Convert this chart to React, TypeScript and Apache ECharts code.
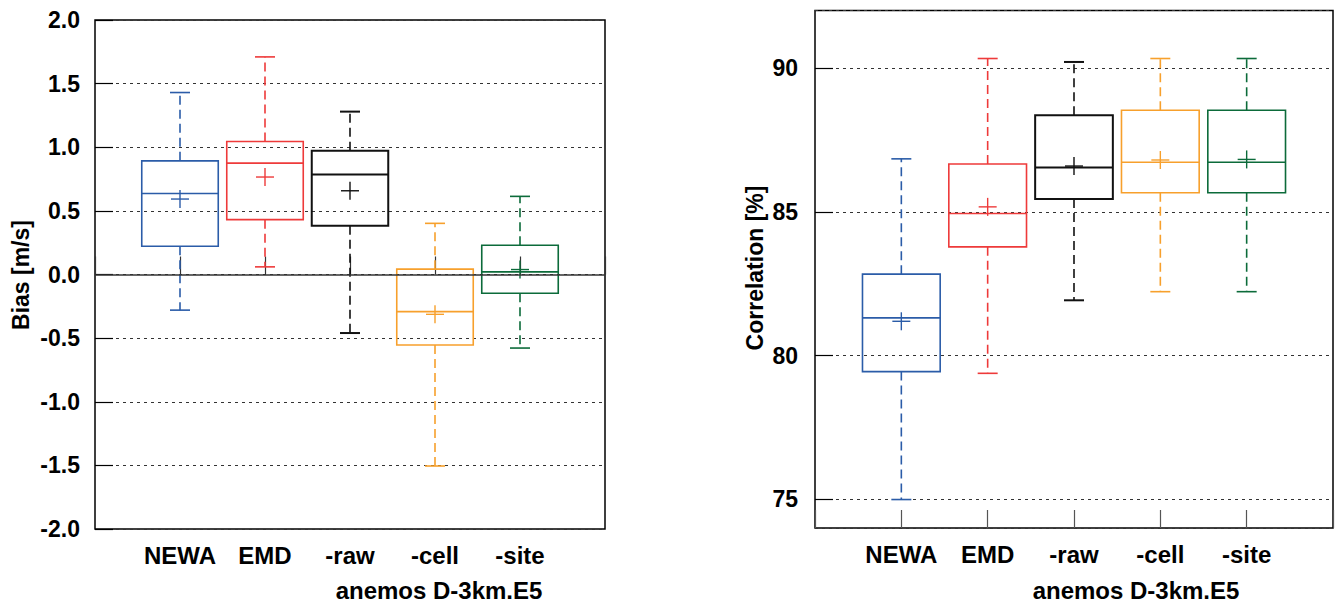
import React, { useEffect, useRef } from "react";
import * as echarts from "echarts";

const categories = ["NEWA", "EMD", "-raw", "-cell", "-site"];
const positions = [1, 2, 3, 4, 5];
const colors = ["#2b5ca8", "#ee3a3a", "#111111", "#f7a02c", "#0c6b3a"];

// Bias [m/s]
const biasLower = [-0.28, 0.06, -0.46, -1.505, -0.578];
const biasQ1 = [0.222, 0.431, 0.384, -0.554, -0.147];
const biasMedian = [0.637, 0.875, 0.786, -0.292, 0.021];
const biasQ3 = [0.893, 1.045, 0.972, 0.042, 0.23];
const biasUpper = [1.43, 1.71, 1.28, 0.402, 0.614];
const biasMean = [0.593, 0.766, 0.658, -0.313, 0.039];

// Correlation [%]
const corrLower = [74.99, 79.38, 81.92, 82.22, 82.22];
const corrQ1 = [79.44, 83.78, 85.44, 85.66, 85.66];
const corrMedian = [81.31, 84.94, 86.54, 86.72, 86.72];
const corrQ3 = [82.83, 86.66, 88.36, 88.53, 88.53];
const corrUpper = [86.84, 90.33, 90.21, 90.33, 90.33];
const corrMean = [81.19, 85.17, 86.59, 86.8, 86.82];

const xTitle = "anemos D-3km.E5";
const FONT = "'Liberation Sans', Arial, Helvetica, sans-serif";

function buildData(lo: number[], q1: number[], med: number[], q3: number[], up: number[], mean: number[]) {
  return positions.map((p, i) => [p, lo[i], q1[i], med[i], q3[i], up[i], mean[i], i]);
}

function renderBox(params: any, api: any) {
  const x = api.value(0);
  const ci = api.value(7);
  const color = colors[ci];
  const pt = (v: number) => api.coord([x, v]);
  const cx = pt(api.value(3))[0];
  const yLo = pt(api.value(1))[1];
  const yQ1 = pt(api.value(2))[1];
  const yMed = pt(api.value(3))[1];
  const yQ3 = pt(api.value(4))[1];
  const yUp = pt(api.value(5))[1];
  const yMean = pt(api.value(6))[1];
  const halfW = api.size([0.9, 0])[0] / 2;
  const capHalf = 10;
  const mHalf = 9;
  const lw = ci === 2 ? 2 : 1.6;
  const solid = { stroke: color, lineWidth: lw, fill: null };
  const dashed = { stroke: color, lineWidth: 1.6, lineDash: [9, 5], fill: null };
  return {
    type: "group",
    children: [
      { type: "line", shape: { x1: cx, y1: yQ3, x2: cx, y2: yUp }, style: dashed },
      { type: "line", shape: { x1: cx, y1: yQ1, x2: cx, y2: yLo }, style: dashed },
      { type: "line", shape: { x1: cx - capHalf, y1: yUp, x2: cx + capHalf, y2: yUp }, style: solid },
      { type: "line", shape: { x1: cx - capHalf, y1: yLo, x2: cx + capHalf, y2: yLo }, style: solid },
      { type: "rect", shape: { x: cx - halfW, y: yQ3, width: 2 * halfW, height: yQ1 - yQ3 }, style: solid },
      { type: "line", shape: { x1: cx - halfW, y1: yMed, x2: cx + halfW, y2: yMed }, style: solid },
      { type: "line", shape: { x1: cx - mHalf, y1: yMean, x2: cx + mHalf, y2: yMean }, style: { stroke: color, lineWidth: 1.4 } },
      { type: "line", shape: { x1: cx, y1: yMean - mHalf, x2: cx, y2: yMean + mHalf }, style: { stroke: color, lineWidth: 1.4 } },
    ],
  };
}

const catLabelStyle = { fontFamily: FONT, fontWeight: "bold" as const, fontSize: 24, color: "#000" };
const tickLabelStyle = { fontFamily: FONT, fontWeight: "bold" as const, fontSize: 23, color: "#000" };

function xAxisCfg(gridIndex: number, tickColor: string) {
  return {
    type: "value",
    gridIndex,
    min: 0,
    max: 6,
    interval: 1,
    axisLine: { show: false },
    axisTick: { show: true, inside: true, length: 18, lineStyle: { color: tickColor, width: 1.2 } },
    splitLine: { show: false },
    axisLabel: {
      ...catLabelStyle,
      margin: 14,
      formatter: (v: number) => (v >= 1 && v <= 5 ? categories[v - 1] : ""),
    },
  };
}

export default function App() {
  const ref = useRef<HTMLDivElement>(null);
  useEffect(() => {
    if (!ref.current) return;
    const chart = echarts.init(ref.current, null, { renderer: "svg" });
    const splitLine = { show: true, lineStyle: { color: "#333", type: [3, 4] as any, width: 1 } };
    const option: any = {
      animation: false,
      backgroundColor: "#fff",
      grid: [
        { left: 95, top: 20, width: 510, height: 509, show: true, borderColor: "#000", borderWidth: 1.5, backgroundColor: "transparent" },
        { left: 815, top: 10.5, width: 518, height: 517.5, show: true, borderColor: "#000", borderWidth: 1.5, backgroundColor: "transparent" },
      ],
      xAxis: [xAxisCfg(0, "#333"), xAxisCfg(1, "#555")],
      yAxis: [
        {
          type: "value",
          gridIndex: 0,
          min: -2,
          max: 2,
          interval: 0.5,
          axisLine: { show: false },
          axisTick: { show: true, inside: true, length: 18, lineStyle: { color: "#000", width: 1.2 } },
          splitLine,
          axisLabel: { ...tickLabelStyle, margin: 15, formatter: (v: number) => v.toFixed(1) },
        },
        {
          type: "value",
          gridIndex: 1,
          min: 74,
          max: 92,
          splitNumber: 4,
          axisLine: { show: false },
          axisTick: { show: true, inside: true, length: 18, lineStyle: { color: "#000", width: 1.2 } },
          splitLine,
          axisLabel: { ...tickLabelStyle, margin: 17, showMinLabel: false, showMaxLabel: false },
        },
      ],
      series: [
        {
          type: "custom",
          xAxisIndex: 0,
          yAxisIndex: 0,
          renderItem: renderBox,
          data: buildData(biasLower, biasQ1, biasMedian, biasQ3, biasUpper, biasMean),
          markLine: {
            silent: true,
            symbol: "none",
            label: { show: false },
            lineStyle: { color: "#333", type: "solid", width: 1.6 },
            data: [{ yAxis: 0 }],
          },
          z: 3,
        },
        {
          type: "custom",
          xAxisIndex: 1,
          yAxisIndex: 1,
          renderItem: renderBox,
          data: buildData(corrLower, corrQ1, corrMedian, corrQ3, corrUpper, corrMean),
          z: 3,
        },
      ],
      graphic: [
        { type: "text", x: 21, y: 275, rotation: Math.PI / 2, style: { text: "Bias [m/s]", font: `bold 23px ${FONT}`, fill: "#000", align: "center", verticalAlign: "middle" } },
        { type: "text", x: 755, y: 268, rotation: Math.PI / 2, style: { text: "Correlation [%]", font: `bold 23px ${FONT}`, fill: "#000", align: "center", verticalAlign: "middle" } },
        { type: "text", x: 439, y: 590, style: { text: xTitle, font: `bold 24px ${FONT}`, fill: "#000", align: "center", verticalAlign: "middle" } },
        { type: "text", x: 1136, y: 590, style: { text: xTitle, font: `bold 24px ${FONT}`, fill: "#000", align: "center", verticalAlign: "middle" } },
      ],
    };
    chart.setOption(option);
    return () => chart.dispose();
  }, []);
  return <div ref={ref} style={{ position: "fixed", left: 0, top: 0, width: 1338, height: 603 }} />;
}
